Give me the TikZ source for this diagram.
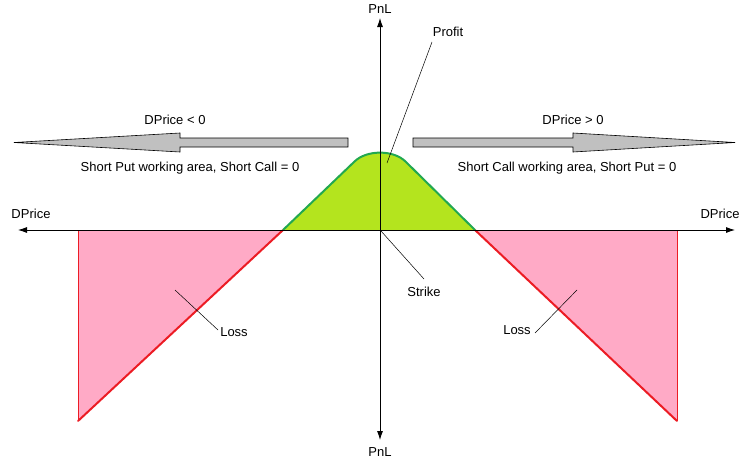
\documentclass[tikz,border=0pt]{standalone}
\usepackage{fontspec}
\setmainfont{Liberation Sans}
\usetikzlibrary{arrows.meta}
\definecolor{pinkfill}{RGB}{255,170,198}
\definecolor{limefill}{RGB}{180,228,30}
\definecolor{greenline}{RGB}{34,168,80}
\definecolor{redline}{RGB}{236,28,36}
\definecolor{greyarrow}{RGB}{192,192,192}
\tikzset{
  axis/.style={line width=0.8pt,-{Latex[length=9pt,width=6pt]}},
  leader/.style={line width=0.5pt},
  lbl/.style={font=\fontsize{13}{15}\selectfont,inner sep=0pt},
  bigarrow/.style={fill=greyarrow,draw=black,line width=0.6pt},
}
\begin{document}
\begin{tikzpicture}[x=1pt,y=-1pt]
\useasboundingbox (0,0) rectangle (751,463);
% loss areas
\fill[pinkfill] (78,230) -- (283,230) -- (78,421) -- cycle;
\fill[pinkfill] (475,230) -- (677,230) -- (677,421) -- cycle;
\draw[redline,line width=0.8pt] (78,230) -- (78,421);
\draw[redline,line width=0.8pt] (677,230) -- (677,421);
\draw[redline,line width=2pt,line cap=round] (283,230) -- (78,421);
\draw[redline,line width=2pt,line cap=round] (475,230) -- (677,421);
% profit area
\fill[limefill] (283,230) -- (354,162) .. controls (366,149.5) and (394,149.5) .. (406,162) -- (475,230) -- cycle;
\draw[greenline,line width=2pt,line join=round] (283,230) -- (354,162) .. controls (366,149.5) and (394,149.5) .. (406,162) -- (475,230);
% big grey arrows
\draw[bigarrow] (348,138) -- (180,138) -- (180,133) -- (14,142.5) -- (180,152) -- (180,147) -- (348,147) -- cycle;
\draw[bigarrow] (413,138) -- (573,138) -- (573,133) -- (735,142.5) -- (573,152) -- (573,147) -- (413,147) -- cycle;
% axes
\coordinate (xl) at (18,230);
\coordinate (xr) at (735,230);
\coordinate (yt) at (380,18);
\coordinate (yb) at (380,440);
\coordinate (o) at (380,230);
\draw[axis] (o) -- (xl);
\draw[axis] (o) -- (xr);
\draw[axis] (o) -- (yt);
\draw[axis] (o) -- (yb);
% labels
\node[lbl] (pnlt) at (380,9) {PnL};
\node[lbl] (pnlb) at (380,452) {PnL};
\node[lbl] (dpl) at (31,214) {DPrice};
\node[lbl] (dpr) at (720,214) {DPrice};
\node[lbl] (dneg) at (175,120) {DPrice < 0};
\node[lbl] (dpos) at (573,120) {DPrice > 0};
\node[lbl] (sput) at (190,168) {Short Put working area, Short Call = 0};
\node[lbl] (scall) at (567,168) {Short Call working area, Short Put = 0};
\node[lbl] (profit) at (448,32) {Profit};
\node[lbl] (strike) at (424,292) {Strike};
\node[lbl] (lossl) at (234,332) {Loss};
\node[lbl] (lossr) at (517,330) {Loss};
% leaders
\coordinate (pa) at (432,42);
\coordinate (pb) at (387,163);
\coordinate (sa) at (381,231);
\coordinate (sb) at (424,279);
\coordinate (la) at (175,290);
\coordinate (lb) at (218,330);
\coordinate (ra) at (577,290);
\coordinate (rb) at (535,333);
\draw[leader] (pa) -- (pb);
\draw[leader] (sa) -- (sb);
\draw[leader] (la) -- (lb);
\draw[leader] (ra) -- (rb);
\end{tikzpicture}
\end{document}
